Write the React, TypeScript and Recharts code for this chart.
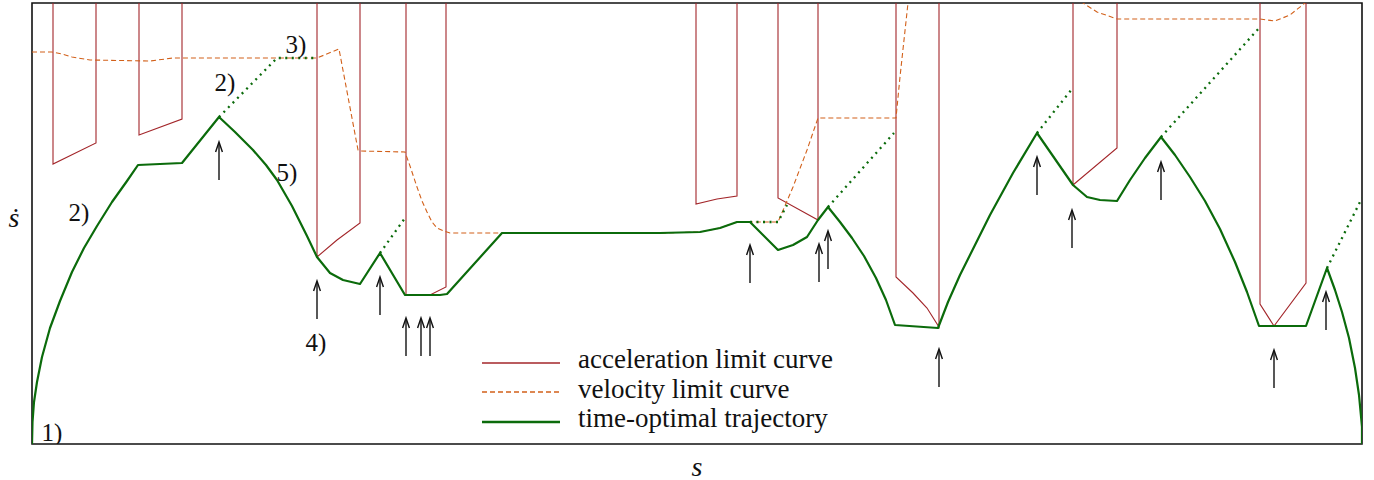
import React from 'react';
import { ComposedChart, Line, Scatter, XAxis, YAxis, ReferenceArea, Legend } from 'recharts';

// ---------- data (s = path parameter, v = path velocity ṡ) ----------
const sDomain = [0, 1330];
const vDomain = [0, 441];

const seriesNames = ['acceleration limit curve', 'velocity limit curve', 'time-optimal trajectory'];

const trajectory = [
  { s: 0, v: 0 }, { s: 0.5, v: 22 }, { s: 2, v: 42 }, { s: 5, v: 62 }, { s: 10, v: 87 },
  { s: 18, v: 116 }, { s: 28, v: 143 }, { s: 40, v: 172 }, { s: 52, v: 196 }, { s: 65, v: 218 },
  { s: 80, v: 242 }, { s: 95, v: 263 }, { s: 106, v: 279 }, { s: 150, v: 281 }, { s: 187, v: 327 },
  { s: 203, v: 312 }, { s: 221, v: 294 }, { s: 234, v: 279 }, { s: 245, v: 264 }, { s: 260, v: 238 },
  { s: 275, v: 208 }, { s: 285, v: 187 }, { s: 298, v: 171 }, { s: 311, v: 164 }, { s: 328, v: 160 },
  { s: 348, v: 191 }, { s: 373, v: 149 }, { s: 398, v: 149 }, { s: 408, v: 149 }, { s: 415, v: 150 },
  { s: 470, v: 211 }, { s: 628, v: 211 }, { s: 668, v: 212 }, { s: 688, v: 216 }, { s: 705, v: 222 },
  { s: 718, v: 222 }, { s: 746, v: 194 }, { s: 761, v: 199 }, { s: 775, v: 207 }, { s: 786, v: 224 },
  { s: 796, v: 237 }, { s: 808, v: 222 }, { s: 820, v: 206 }, { s: 832, v: 188 }, { s: 844, v: 166 },
  { s: 854, v: 144 }, { s: 863, v: 119 }, { s: 906, v: 116 }, { s: 916, v: 142 }, { s: 928, v: 169 },
  { s: 943, v: 199 }, { s: 958, v: 229 }, { s: 981, v: 271 }, { s: 1005, v: 311 }, { s: 1041, v: 259 },
  { s: 1055, v: 247 }, { s: 1068, v: 244 }, { s: 1085, v: 243 }, { s: 1098, v: 264 }, { s: 1113, v: 286 },
  { s: 1129, v: 307 }, { s: 1143, v: 289 }, { s: 1158, v: 267 }, { s: 1173, v: 243 }, { s: 1188, v: 215 },
  { s: 1203, v: 182 }, { s: 1215, v: 152 }, { s: 1227, v: 118 }, { s: 1274, v: 118 }, { s: 1295, v: 176 },
  { s: 1303, v: 154 }, { s: 1310, v: 132 }, { s: 1317, v: 106 }, { s: 1323, v: 76 }, { s: 1327, v: 49 },
  { s: 1330, v: 17 }, { s: 1330, v: 0 },
];

const trajectoryExtensions = [
  { s: 187, v: 327 }, { s: 245, v: 386 }, { s: 285, v: 386 }, { s: 285, v: null },
  { s: 348, v: 191 }, { s: 373, v: 226 }, { s: 373, v: null },
  { s: 718, v: 222 }, { s: 746, v: 222 }, { s: 755, v: 239 }, { s: 755, v: null },
  { s: 796, v: 237 }, { s: 862, v: 311 }, { s: 862, v: null },
  { s: 1005, v: 311 }, { s: 1040, v: 355 }, { s: 1040, v: null },
  { s: 1129, v: 307 }, { s: 1228, v: 417 }, { s: 1228, v: null },
  { s: 1295, v: 176 }, { s: 1330, v: 246 },
];

const accelerationLimit = [
  { s: 21, v: 441 }, { s: 21, v: 280 }, { s: 64, v: 301 }, { s: 64, v: 441 }, { s: 64, v: null },
  { s: 107, v: 441 }, { s: 107, v: 309 }, { s: 150, v: 325 }, { s: 150, v: 441 }, { s: 150, v: null },
  { s: 285, v: 441 }, { s: 285, v: 187 }, { s: 305, v: 204 }, { s: 328, v: 221 }, { s: 328, v: 441 }, { s: 328, v: null },
  { s: 374, v: 441 }, { s: 374, v: 149 }, { s: 398, v: 149 }, { s: 414, v: 157 }, { s: 414, v: 441 }, { s: 414, v: null },
  { s: 664, v: 441 }, { s: 664, v: 240 }, { s: 685, v: 245 }, { s: 705, v: 248 }, { s: 705, v: 441 }, { s: 705, v: null },
  { s: 746, v: 441 }, { s: 746, v: 246 }, { s: 786, v: 224 }, { s: 786, v: 441 }, { s: 786, v: null },
  { s: 864, v: 441 }, { s: 864, v: 167 }, { s: 881, v: 151 }, { s: 895, v: 136 }, { s: 907, v: 117 }, { s: 907, v: 441 }, { s: 907, v: null },
  { s: 1041, v: 441 }, { s: 1041, v: 259 }, { s: 1085, v: 296 }, { s: 1085, v: 441 }, { s: 1085, v: null },
  { s: 1228, v: 441 }, { s: 1228, v: 140 }, { s: 1242, v: 118 }, { s: 1274, v: 161 }, { s: 1274, v: 441 },
];

const velocityLimit = [
  { s: 0, v: 392 }, { s: 20, v: 392 }, { s: 30, v: 390 }, { s: 40, v: 387 }, { s: 58, v: 384 },
  { s: 118, v: 383 }, { s: 141, v: 386 }, { s: 285, v: 386 }, { s: 307, v: 395 }, { s: 326, v: 294 },
  { s: 328, v: 293 }, { s: 373, v: 292 }, { s: 378, v: 278 }, { s: 385, v: 257 }, { s: 390, v: 243 },
  { s: 395, v: 232 }, { s: 400, v: 222 }, { s: 405, v: 216 }, { s: 412, v: 213 }, { s: 418, v: 211 },
  { s: 628, v: 211 }, { s: 668, v: 212 }, { s: 688, v: 216 }, { s: 705, v: 222 }, { s: 746, v: 222 },
  { s: 761, v: 257 }, { s: 775, v: 294 }, { s: 786, v: 326 }, { s: 864, v: 326 }, { s: 868, v: 367 },
  { s: 876, v: 441 }, { s: 880, v: 480 }, { s: 1045, v: 480 }, { s: 1051, v: 441 }, { s: 1065, v: 432 },
  { s: 1085, v: 425 }, { s: 1228, v: 425 }, { s: 1243, v: 423 }, { s: 1258, v: 429 }, { s: 1273, v: 441 },
];

const switchArrows = [
  { s: 187, v: 302 }, { s: 285, v: 163 }, { s: 348, v: 167 }, { s: 374, v: 126 }, { s: 389, v: 126 },
  { s: 398, v: 126 }, { s: 718, v: 199 }, { s: 787, v: 200 }, { s: 796, v: 213 }, { s: 907, v: 95 },
  { s: 1005, v: 287 }, { s: 1040, v: 234 }, { s: 1129, v: 282 }, { s: 1242, v: 94 }, { s: 1294, v: 152 },
];

const annotations = [
  { s: 20, v: 12, label: '1)' }, { s: 47, v: 232, label: '2)' }, { s: 193, v: 362, label: '2)' },
  { s: 264, v: 400, label: '3)' }, { s: 255, v: 272, label: '5)' }, { s: 284, v: 102, label: '4)' },
];

// ---------- styles ----------
const SERIF = '"Liberation Serif", "Times New Roman", "DejaVu Serif", serif';
const accStyle = { color: '#a3262a', width: 1.1, dash: undefined as string | undefined };
const velStyle = { color: '#d2601a', width: 1.1, dash: '5 3' };
const trajStyle = { color: '#0b6b0b', width: 2.2, dash: undefined as string | undefined };
const legendStyles = [accStyle, velStyle, trajStyle];

const ArrowShape = (props: any) => {
  const { cx, cy } = props;
  if (cx == null || cy == null) return null;
  return (
    <g stroke="#111" fill="none" strokeWidth={1.4}>
      <line x1={cx} y1={cy + 1} x2={cx} y2={cy + 38} />
      <path d={`M ${cx - 3.4} ${cy + 10} Q ${cx - 1} ${cy + 3} ${cx} ${cy} Q ${cx + 1} ${cy + 3} ${cx + 3.4} ${cy + 10}`} />
    </g>
  );
};

const LabelShape = (props: any) => {
  const { cx, cy, payload } = props;
  return (
    <text x={cx} y={cy} textAnchor="middle" dominantBaseline="central" fontFamily={SERIF} fontSize={25} fill="#111">
      {payload.label}
    </text>
  );
};

const renderLegend = () => (
  <div style={{ fontFamily: SERIF, fontSize: 27, color: '#111' }}>
    {seriesNames.map((name, i) => (
      <div key={name} style={{ display: 'flex', alignItems: 'center', height: 29.5 }}>
        <svg width={78} height={10} style={{ display: 'block' }}>
          <line x1={0} y1={5} x2={78} y2={5} stroke={legendStyles[i].color}
            strokeWidth={i === 2 ? 2.4 : 1.3} strokeDasharray={legendStyles[i].dash} />
        </svg>
        <span style={{ marginLeft: 18, position: 'relative', top: -3, whiteSpace: 'nowrap', lineHeight: '29.5px' }}>{name}</span>
      </div>
    ))}
  </div>
);

export default function App() {
  return (
    <div style={{ position: 'absolute', left: 0, top: 0, background: '#fff' }}>
      <ComposedChart width={1374} height={480} margin={{ top: 3, right: 12, bottom: 0, left: 0 }}>
        <XAxis
          type="number" dataKey="s" domain={sDomain} allowDataOverflow tick={false} tickLine={false}
          axisLine={false} height={36}
          label={{
            content: (p: any) => (
              <text x={p.viewBox.x + p.viewBox.width / 2} y={p.viewBox.y + 22} textAnchor="middle"
                dominantBaseline="central" fontFamily={SERIF} fontStyle="italic" fontSize={28} fill="#111">s</text>
            ),
          }}
        />
        <YAxis
          type="number" dataKey="v" domain={vDomain} allowDataOverflow tick={false} tickLine={false}
          axisLine={false} width={32}
          label={{
            content: (p: any) => (
              <text x={p.viewBox.x + 14} y={p.viewBox.y + p.viewBox.height / 2 - 6} textAnchor="middle"
                dominantBaseline="central" fontFamily={SERIF} fontStyle="italic" fontSize={28} fill="#111">ṡ</text>
            ),
          }}
        />
        <Legend layout="vertical" align="center" verticalAlign="middle" content={renderLegend}
          wrapperStyle={{ left: 482, top: 348, width: 'auto', height: 'auto' }} />
        <Line data={accelerationLimit} dataKey="v" name={seriesNames[0]} type="linear" stroke={accStyle.color}
          strokeWidth={accStyle.width} dot={false} activeDot={false} isAnimationActive={false} />
        <Line data={velocityLimit} dataKey="v" name={seriesNames[1]} type="linear" stroke={velStyle.color}
          strokeWidth={velStyle.width} strokeDasharray={velStyle.dash} dot={false} activeDot={false} isAnimationActive={false} />
        <Line data={trajectoryExtensions} dataKey="v" name="trajectory extension" legendType="none" type="linear"
          stroke={trajStyle.color} strokeWidth={2.3} strokeDasharray="2 4.5" dot={false} activeDot={false} isAnimationActive={false} />
        <Line data={trajectory} dataKey="v" name={seriesNames[2]} type="linear" stroke={trajStyle.color}
          strokeWidth={trajStyle.width} strokeLinejoin="round" dot={false} activeDot={false} isAnimationActive={false} />
        <Scatter data={switchArrows} name="switching points" legendType="none" shape={ArrowShape} isAnimationActive={false} />
        <Scatter data={annotations} name="annotations" legendType="none" shape={LabelShape} isAnimationActive={false} />
        <ReferenceArea x1={0} x2={1330} y1={0} y2={441} fill="none" fillOpacity={0} stroke="#111" strokeWidth={1.6} />
      </ComposedChart>
    </div>
  );
}
